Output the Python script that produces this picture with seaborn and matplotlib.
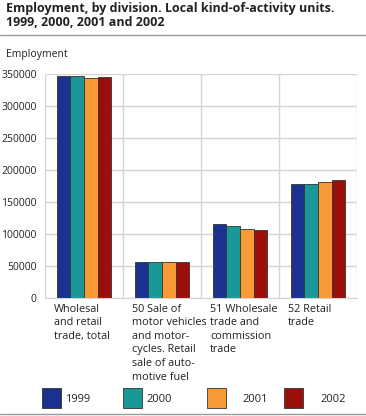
import seaborn as sns
import pandas as pd
import matplotlib.pyplot as plt
from matplotlib.patches import Rectangle

# data
divisions = ["Wholesal\nand retail\ntrade, total",
             "50 Sale of\nmotor vehicles\nand motor-\ncycles. Retail\nsale of auto-\nmotive fuel",
             "51 Wholesale\ntrade and\ncommission\ntrade",
             "52 Retail\ntrade"]
years = ["1999", "2000", "2001", "2002"]
emp_1999 = [347500, 56000, 115000, 177500]
emp_2000 = [346500, 56500, 112500, 178500]
emp_2001 = [343500, 55500, 108000, 180500]
emp_2002 = [345500, 55500, 105500, 184500]
colors = ["#1a318f", "#1a9898", "#f89a35", "#9a0f0a"]

rows = []
for yr, vals in zip(years, [emp_1999, emp_2000, emp_2001, emp_2002]):
	for d, v in zip(divisions, vals):
		rows.append({"division": d, "year": yr, "value": v})
df = pd.DataFrame(rows)

sns.set_style("white")
plt.rcParams['font.family'] = ['Open Sans', 'DejaVu Sans']

W, H = 366, 416
fig = plt.figure(figsize=(W / 100, H / 100), dpi=100)
ax = fig.add_axes([45 / W, 1 - 298 / H, 312 / W, 224 / H])

sns.barplot(data=df, x="division", y="value", hue="year", palette=colors,
			saturation=1, width=0.70, edgecolor="#333333", linewidth=0.6,
			ax=ax, legend=False)

ax.set_ylim(0, 350000)
ax.set_xlim(-0.5, 3.5)
ax.set_yticks(range(0, 350001, 50000))
ax.set_yticklabels([str(v) for v in range(0, 350001, 50000)], fontsize=7.5, color="#222222")
ax.set_xticks([i - 0.385 for i in range(4)])
ax.set_xticklabels(divisions, fontsize=7.8, ha='left', va='top', linespacing=1.33,
				   color="#222222")
ax.tick_params(axis='y', length=0, pad=6)
ax.tick_params(axis='x', length=0, pad=4)
ax.set_xlabel("")
ax.set_ylabel("")
ax.set_axisbelow(True)
ax.yaxis.grid(True, color="#d4d4d4", linewidth=1)
for b in [-0.5, 0.5, 1.5, 2.5, 3.5]:
	ax.axvline(b, color="#d4d4d4", linewidth=1, zorder=0)
for s in ["top", "right", "left"]:
	ax.spines[s].set_visible(False)
ax.spines["bottom"].set_color("#d4d4d4")

fig.text(6 / W, 1 - 2 / H,
		 "Employment, by division. Local kind-of-activity units.\n1999, 2000, 2001 and 2002",
		 fontsize=9, fontweight='bold', va='top', ha='left', linespacing=1.15,
		 color="#222222")
fig.add_artist(plt.Line2D([0, 1], [1 - 35 / H, 1 - 35 / H], color="#999999", linewidth=1))
fig.text(6 / W, 1 - 55 / H, "Employment", fontsize=7.5, va='center', ha='left',
		 color="#222222")
fig.add_artist(plt.Line2D([0, 1], [1 - 414 / H, 1 - 414 / H], color="#999999", linewidth=1))

# legend boxes laid out as in the reference
box_x = [42, 123, 207, 284]
text_x = [65, 146, 242, 320]
for c, yr, bx, tx in zip(colors, years, box_x, text_x):
	fig.add_artist(Rectangle((bx / W, 1 - 408 / H), 19 / W, 20 / H, facecolor=c,
							 edgecolor="#333333", linewidth=0.6,
							 transform=fig.transFigure))
	fig.text(tx / W, 1 - 400 / H, yr, fontsize=8, va='center', ha='left', color="#222222")

plt.savefig("out.png", dpi=100)
